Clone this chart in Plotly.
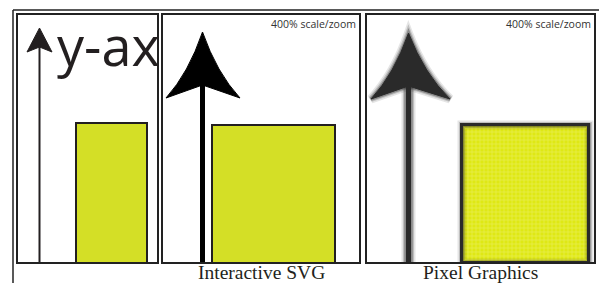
import plotly.graph_objects as go

# ---------------- data ----------------
panel_names = ["Original", "Interactive SVG", "Pixel Graphics"]
panel_captions = ["", "Interactive SVG", "Pixel Graphics"]
zoom_labels = ["", "400% scale/zoom", "400% scale/zoom"]
bar_heights = [0.562, 0.554, 0.554]     # bar height as fraction of the y axis
axis_label = "y-ax"

# ---------------- layout geometry (pixels) ----------------
W, H = 599, 283
panel_px = [(17, 158), (162, 360), (366, 595)]
top_px, bot_px = 14, 263
bar_px = [(76, 147), (212, 335), (462, 589)]
arrows = [
    dict(x=39.5, tip=28, wy=52, wl=27, wr=52, notch=47, shaft=2),
    dict(x=202.5, tip=32, wy=98, wl=166, wr=240, notch=85, shaft=5),
    dict(x=408.5, tip=33, wy=99, wl=371, wr=450, notch=86, shaft=5),
]
INK = "#231f20"
YEL = "#d4df26"


def px_x(px):
    return px / W


def px_y(py):
    return 1 - py / H


fig = go.Figure()
shapes = []
annotations = []

for i, name in enumerate(panel_names):
    sfx = "" if i == 0 else str(i + 1)
    xa, ya = "x" + sfx, "y" + sfx
    pl, pr = panel_px[i]
    pw = pr - pl
    ph = bot_px - top_px

    def dx(px, pl=pl, pw=pw):
        return (px - pl) / pw

    def dy(py):
        return (bot_px - py) / ph

    bl, br = bar_px[i]
    bar_kw = dict(color=YEL, line=dict(color=INK, width=2))
    if i == 2:
        bar_kw = dict(
            color="#e2ea14",
            line=dict(color="#2e2e2e", width=3),
            pattern=dict(shape="+", size=4, solidity=0.3,
                         fgcolor="#f3f68f", bgcolor="#dfe814"),
        )
    fig.add_trace(go.Bar(
        x=[dx((bl + br) / 2)], y=[bar_heights[i]], width=[dx(br) - dx(bl)],
        xaxis=xa, yaxis=ya, marker=bar_kw, name=name, showlegend=False,
        hoverinfo="skip",
    ))

    fig.layout["xaxis" + sfx] = dict(
        domain=[px_x(pl), px_x(pr)], range=[0, 1], visible=False,
        fixedrange=True, anchor=ya)
    fig.layout["yaxis" + sfx] = dict(
        domain=[px_y(bot_px), px_y(top_px)], range=[0, 1], visible=False,
        fixedrange=True, anchor=xa)

    # arrow (the y-axis symbol)
    a = arrows[i]
    head = (f"M {dx(a['x'])} {dy(a['tip'])} "
            f"Q {dx(a['x'] - (a['x'] - a['wl']) * 0.38)} {dy(a['tip'] + (a['wy'] - a['tip']) * 0.62)} "
            f"{dx(a['wl'])} {dy(a['wy'])} "
            f"L {dx(a['x'])} {dy(a['notch'])} "
            f"L {dx(a['wr'])} {dy(a['wy'])} "
            f"Q {dx(a['x'] + (a['wr'] - a['x']) * 0.38)} {dy(a['tip'] + (a['wy'] - a['tip']) * 0.62)} "
            f"{dx(a['x'])} {dy(a['tip'])} Z")
    if i == 0:
        head = (f"M {dx(a['x'])} {dy(a['tip'])} L {dx(a['wl'])} {dy(a['wy'])} "
                f"L {dx(a['x'])} {dy(a['notch'])} L {dx(a['wr'])} {dy(a['wy'])} Z")
    col = INK if i == 0 else "#000000"
    if i == 2:
        col = "#2a2a2a"
        for lw, op in [(9, 0.12), (6, 0.2), (3.5, 0.35)]:
            shapes.append(dict(type="path", xref=xa, yref=ya, path=head,
                               fillcolor=f"rgba(40,40,40,{op})",
                               line=dict(color=f"rgba(40,40,40,{op})", width=lw)))
            shapes.append(dict(type="line", xref=xa, yref=ya,
                               x0=dx(a['x']), x1=dx(a['x']), y0=0, y1=dy(a['notch']),
                               line=dict(color=f"rgba(40,40,40,{op})", width=a['shaft'] + lw)))
            shapes.append(dict(type="rect", xref=xa, yref=ya,
                               x0=dx(bl), x1=dx(br), y0=0, y1=bar_heights[i],
                               line=dict(color=f"rgba(40,40,40,{op})", width=lw)))
    shapes.append(dict(type="path", xref=xa, yref=ya, path=head,
                       fillcolor=col, line=dict(color=col, width=1)))
    shapes.append(dict(type="line", xref=xa, yref=ya,
                       x0=dx(a['x']), x1=dx(a['x']), y0=0, y1=dy(a['notch']) + 0.01,
                       line=dict(color=col, width=a['shaft'])))

    # panel border
    shapes.append(dict(type="rect", xref=xa + " domain", yref=ya + " domain",
                       x0=0, x1=1, y0=0, y1=1,
                       line=dict(color="#222222", width=2)))

    if zoom_labels[i]:
        annotations.append(dict(
            text=zoom_labels[i], xref="paper", yref="paper",
            x=px_x(pr - 2), y=px_y(23.5), xanchor="right", yanchor="middle",
            showarrow=False, font=dict(family="Open Sans", size=10.5, color="#333333")))
    if panel_captions[i]:
        annotations.append(dict(
            text=panel_captions[i], xref="paper", yref="paper",
            x=px_x((pl + pr) / 2), y=px_y(272.5), xanchor="center", yanchor="middle",
            showarrow=False,
            font=dict(family="Liberation Serif", size=19.5, color="#231f20")))

# large y-axis label in the first panel
annotations.append(dict(
    text=axis_label, xref="paper", yref="paper", x=px_x(55), y=px_y(45),
    xanchor="left", yanchor="middle", showarrow=False,
    font=dict(family="Open Sans", size=54, color=INK)))

# outer frame
shapes += [
    dict(type="line", xref="paper", yref="paper", x0=px_x(13), x1=1,
         y0=px_y(10), y1=px_y(10), line=dict(color="#222222", width=1.5)),
    dict(type="line", xref="paper", yref="paper", x0=px_x(13), x1=px_x(13),
         y0=0, y1=px_y(10), line=dict(color="#222222", width=1.5)),
]

fig.update_layout(
    width=W, height=H, margin=dict(l=0, r=0, t=0, b=0),
    paper_bgcolor="white", plot_bgcolor="white",
    shapes=shapes, annotations=annotations, bargap=0,
    showlegend=False,
)

fig.write_html("out.html", config={"displayModeBar": False},
               post_script="document.body.style.margin='0';document.body.style.overflow='hidden';")
